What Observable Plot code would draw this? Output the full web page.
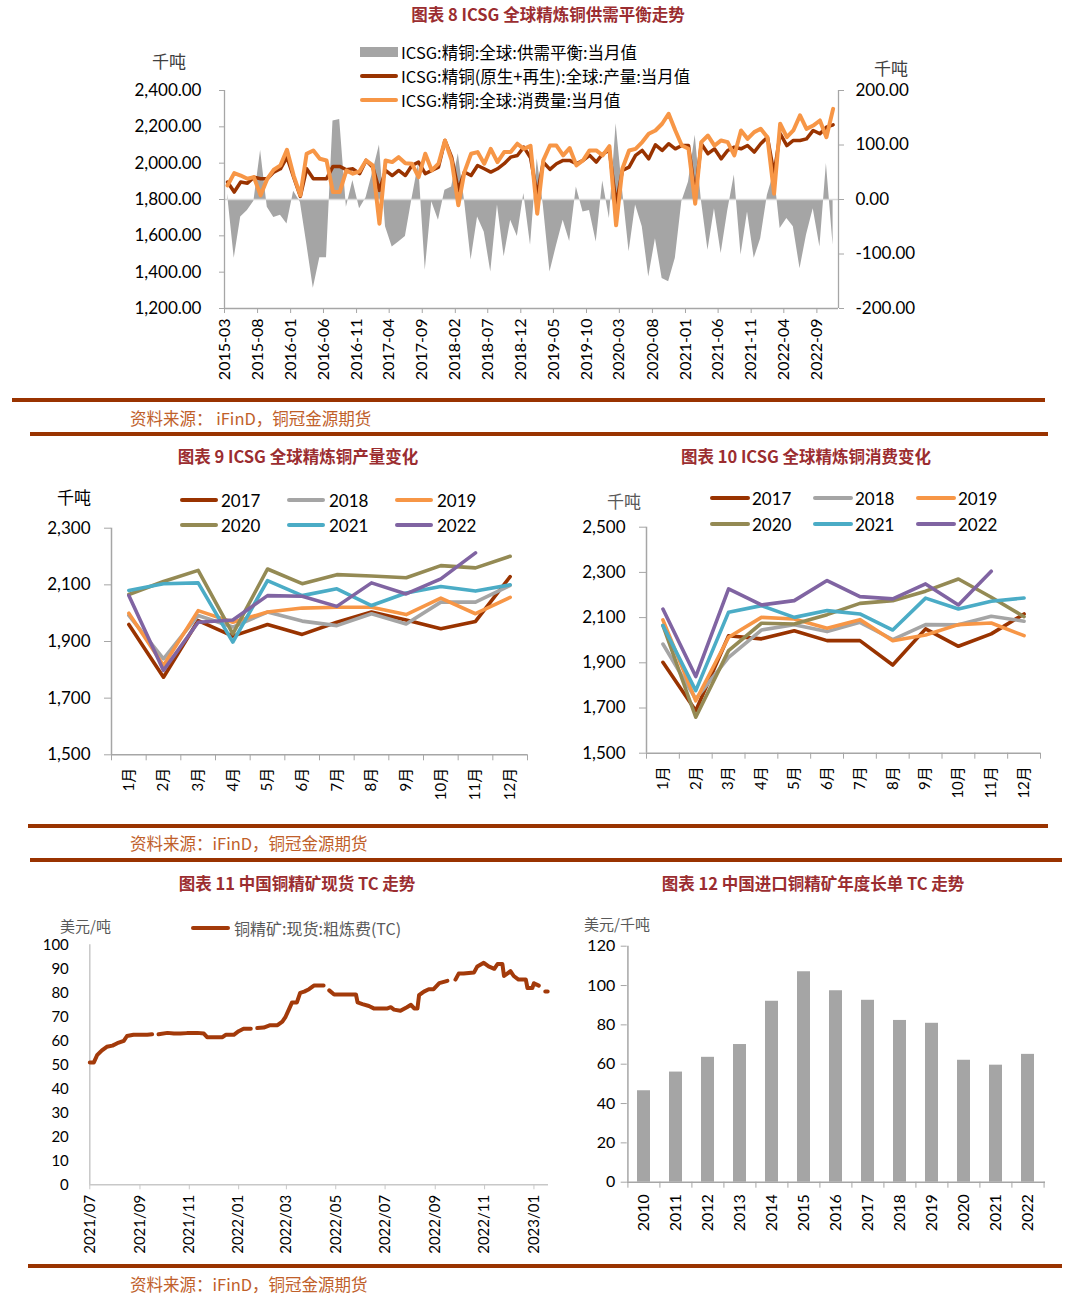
<!DOCTYPE html>
<html>
<head>
<meta charset="utf-8">
<script src="https://cdn.jsdelivr.net/npm/d3@7"></script>
<script src="https://cdn.jsdelivr.net/npm/@observablehq/plot@0.6"></script>
<style>
  body { margin: 0; background: #fff; }
  #root { position: relative; width: 1070px; height: 1308px; overflow: hidden; font-family: "Noto Sans CJK SC", "Noto Sans", sans-serif; }
  .title { position: absolute; font-weight: bold; color: #9B2D30; font-size: 16.5px; line-height: 1; white-space: nowrap; transform: translate(-50%, -50%); }
  .rule { position: absolute; height: 3.5px; background: #993300; }
  .src { position: absolute; color: #C0602A; font-size: 16.5px; line-height: 1; white-space: nowrap; transform: translateY(-50%); }
  .txt { position: absolute; white-space: nowrap; line-height: 1; transform: translateY(-50%); }
  .sw { position: absolute; border-radius: 3px; }
</style>
</head>
<body>
<div id="root"></div>
<script>
// ---------------- DATA ----------------
// Figure 8: ICSG refined copper, monthly from 2015-03
const firstMonth = "2015-03";
const production = [1896,1841,1896,1890,1923,1914,1914,1951,1969,2033,1923,1817,1969,1914,1914,1914,1982,1982,1964,1969,1942,2015,1978,1850,1960,1932,1960,1932,1987,2006,1942,1960,1978,2125,2033,1850,1951,1932,1987,1969,1951,1969,1997,2033,2042,2088,2030,1822,2006,1966,1997,2015,2015,1997,2015,2043,2006,2052,2070,1768,1960,1978,2043,2070,2024,2101,2070,2107,2079,2097,2097,1823,2107,2052,2079,2024,2070,2088,2079,2097,2061,2107,2143,1942,2162,2097,2125,2125,2134,2180,2162,2198,2211];
const consumption = [1877,1945,1932,1914,1923,1823,1914,1964,1988,2074,1932,1823,2052,2070,2024,2015,1841,1841,1960,1942,1955,2015,1988,1667,2015,2006,2033,2000,1997,1923,2052,1960,1997,2125,2015,1768,1951,2052,2061,1997,2079,2006,2061,2061,2107,2079,2095,1722,2015,2097,2097,2043,2083,1988,2015,2070,2070,2043,2094,1658,1969,2070,2079,2116,2162,2180,2217,2272,2180,2097,2079,1777,2116,2152,2097,2125,2116,2043,2180,2134,2171,2189,2143,1832,2217,2143,2180,2263,2189,2207,2235,2143,2299];
const balance = [10,-108,-32,-20,-3,90,-14,-33,-29,-45,15,-5,-80,-163,-107,-107,144,147,-14,35,-17,3,50,100,-50,-87,-78,-68,0,66,-130,-4,-38,17,23,84,0,-111,-32,-60,-133,-10,-105,-38,-68,11,-84,75,-10,-133,-85,-38,-77,23,-23,-20,-78,34,-35,139,20,-96,-10,-50,-142,-72,-145,-151,-108,-4,32,118,0,-93,-17,-99,-22,45,-102,-23,-108,-72,8,50,-53,-35,-50,-127,-65,-17,-87,66,-84];
const topTickLabels = ["2015-03","2015-08","2016-01","2016-06","2016-11","2017-04","2017-09","2018-02","2018-07","2018-12","2019-05","2019-10","2020-03","2020-08","2021-01","2021-06","2021-11","2022-04","2022-09"];
const leftTicks = [1200,1400,1600,1800,2000,2200,2400];
const rightTicks = [-200,-100,0,100,200];
const topLegend = ["ICSG:精铜:全球:供需平衡:当月值","ICSG:精铜(原生+再生):全球:产量:当月值","ICSG:精铜:全球:消费量:当月值"];

// Figures 9 & 10: by month
const monthLabels = ["1月","2月","3月","4月","5月","6月","7月","8月","9月","10月","11月","12月"];
const years = ["2017","2018","2019","2020","2021","2022"];
const yearColors = ["#993300","#A5A5A5","#F79646","#948A54","#4BACC6","#8064A2"];
const prod2017 = [1960,1774,1974,1919,1960,1925,1968,2004,1976,1945,1971,2129];
const prod2018 = [1992,1839,1992,1951,2004,1972,1956,1998,1962,2039,2039,2098];
const prod2019 = [2000,1815,2009,1968,2004,2018,2021,2021,1995,2053,1998,2056];
const prod2020 = [2066,2112,2151,1927,2156,2104,2136,2131,2125,2168,2160,2201];
const prod2021 = [2080,2104,2107,1898,2115,2062,2086,2027,2071,2094,2078,2100];
const prod2022 = [2062,1798,1968,1976,2062,2060,2024,2107,2068,2121,2213];
const cons2017 = [1902,1688,2020,2006,2042,1998,1998,1890,2050,1973,2028,2116];
const cons2018 = [1983,1740,1924,2045,2068,2038,2079,2003,2069,2068,2106,2084];
const cons2019 = [2090,1732,2013,2101,2094,2053,2091,1998,2023,2069,2076,2020];
const cons2020 = [2065,1659,1954,2075,2072,2113,2163,2175,2217,2271,2190,2104];
const cons2021 = [2065,1777,2124,2153,2101,2131,2116,2045,2186,2138,2172,2187];
const cons2022 = [2138,1839,2227,2156,2175,2264,2193,2183,2249,2156,2305];
const prodTicks = [1500,1700,1900,2100,2300];
const consTicks = [1500,1700,1900,2100,2300,2500];

// Figure 11: spot TC (null = gap in the series)
const tcDates = ["2021-07-01","2021-07-06","2021-07-10","2021-07-16","2021-07-22","2021-07-29","2021-08-04","2021-08-12","2021-08-16","2021-08-24","2021-09-02","2021-09-10","2021-09-16","2021-09-20","2021-09-24","2021-10-05","2021-10-13","2021-10-21","2021-10-29","2021-11-11","2021-11-19","2021-11-23","2021-12-01","2021-12-12","2021-12-16","2021-12-26","2022-01-01","2022-01-07","2022-01-16","2022-01-20","2022-01-24","2022-02-01","2022-02-09","2022-02-18","2022-02-24","2022-02-28","2022-03-04","2022-03-08","2022-03-14","2022-03-18","2022-03-23","2022-03-29","2022-04-04","2022-04-10","2022-04-16","2022-04-20","2022-04-23","2022-04-29","2022-05-07","2022-05-19","2022-05-26","2022-05-28","2022-06-03","2022-06-11","2022-06-17","2022-06-25","2022-07-04","2022-07-08","2022-07-12","2022-07-20","2022-07-28","2022-08-02","2022-08-06","2022-08-10","2022-08-12","2022-08-18","2022-08-24","2022-08-30","2022-09-06","2022-09-16","2022-09-21","2022-09-26","2022-09-30","2022-10-06","2022-10-19","2022-10-23","2022-10-31","2022-11-06","2022-11-13","2022-11-17","2022-11-23","2022-11-25","2022-11-29","2022-12-03","2022-12-07","2022-12-13","2022-12-22","2022-12-24","2022-12-30","2023-01-01","2023-01-07","2023-01-11","2023-01-15","2023-01-18"];
const tcValues = [51,51,54,56,57.5,58,59,60,62,62.5,62.5,62.5,62.7,null,62.7,63.3,63,63,63.2,63.3,63,61.5,61.5,61.5,62.5,62.5,64,65,65,null,65.3,65.5,66.5,66.5,68,70,73,76,76,80,80.5,81.5,83,83,83,null,81,79.3,79.3,79.3,79.3,76,75.3,74.5,73.5,73.5,73.5,74,73,72.5,74,75,73.5,73.5,79,80.5,81.5,81.5,84,85,null,85.5,88,88,88.5,91,92.5,91,90,92,92,87,88,89,87,85.5,85.5,82,82,84,83,null,80.5,80.5];
const tcTickLabels = ["2021/07","2021/09","2021/11","2022/01","2022/03","2022/05","2022/07","2022/09","2022/11","2023/01"];
const tcYTicks = [0,10,20,30,40,50,60,70,80,90,100];
const tcLegend = "铜精矿:现货:粗炼费(TC)";

// Figure 12: annual benchmark TC
const tcYears = ["2010","2011","2012","2013","2014","2015","2016","2017","2018","2019","2020","2021","2022"];
const tcBenchmark = [46.5,56,63.5,70,92,107,97.35,92.5,82.25,80.8,62,59.5,65];
const benchTicks = [0,20,40,60,80,100,120];

// ---------------- HELPERS ----------------
const root = document.getElementById("root");
const axisGray = "#A6A6A6";
const latin = 'Lato, "Noto Sans CJK SC", sans-serif';
function place(node, left, top) {
  node.style.position = "absolute";
  node.style.left = left + "px";
  node.style.top = top + "px";
  root.appendChild(node);
}
function div(cls, text, css) {
  const d = document.createElement("div");
  d.className = cls;
  d.textContent = text;
  Object.assign(d.style, css);
  root.appendChild(d);
  return d;
}
function swatchLine(x1, x2, y, color, thick) {
  div("sw", "", {left: x1 + "px", top: (y - thick / 2) + "px", width: (x2 - x1) + "px", height: thick + "px", background: color});
}
const baseStyle = {fontFamily: latin, fontSize: "15px", color: "#000", background: "transparent", overflow: "visible"};

// ---------------- FIGURE 8 ----------------
const parseYM = d3.utcParse("%Y-%m");
const start = parseYM(firstMonth);
const topRows = production.map((p, i) => ({
  date: new Date(Date.UTC(start.getUTCFullYear(), start.getUTCMonth() + i, 15)),
  prod: p, cons: consumption[i], bal: balance[i]
}));
const topDomain = [start, new Date(Date.UTC(2022, 11, 10))];
const toLeft = b => 1800 + 3 * b; // secondary axis: -200..200 ↔ 1200..2400
const topChart = Plot.plot({
  width: 1070, height: 400, marginLeft: 224, marginRight: 232, marginTop: 90, marginBottom: 92,
  x: {type: "utc", domain: topDomain},
  y: {domain: [1200, 2400]},
  style: baseStyle,
  marks: [
    Plot.areaY(topRows, {x: "date", y1: 1800, y2: d => toLeft(d.bal), fill: "#A5A5A5"}),
    Plot.ruleY([1800], {stroke: "#D9D9D9", strokeWidth: 1.5}),
    Plot.line(topRows, {x: "date", y: "prod", stroke: "#993300", strokeWidth: 3.5, strokeLinejoin: "round"}),
    Plot.line(topRows, {x: "date", y: "cons", stroke: "#F79646", strokeWidth: 4, strokeLinejoin: "round"}),
    Plot.ruleX([topDomain[0]], {stroke: axisGray, strokeWidth: 1.3}),
    Plot.ruleX([topDomain[1]], {stroke: axisGray, strokeWidth: 1.3}),
    Plot.ruleY([1200], {stroke: axisGray, strokeWidth: 1.3}),
    Plot.axisY({anchor: "left", ticks: leftTicks, tickFormat: d3.format(",.2f"), tickSize: 5, tickPadding: 18, stroke: axisGray, fill: "#000", fontSize: 17, label: null}),
    Plot.axisY({anchor: "right", ticks: rightTicks.map(toLeft), tickFormat: d => ((d - 1800) / 3).toFixed(2), tickSize: 5, tickPadding: 12, stroke: axisGray, fill: "#000", fontSize: 17, label: null}),
    Plot.axisX({ticks: topTickLabels.map(parseYM), tickFormat: d3.utcFormat("%Y-%m"), tickRotate: -90, tickSize: 5, tickPadding: 5, stroke: axisGray, fill: "#000", fontSize: 16, label: null})
  ]
});
place(topChart, 0, 0);

// ---------------- FIGURES 9 & 10 ----------------
const monthNums = monthLabels.map((_, i) => i + 1);
const boundaries = [0.5, ...monthNums.map(m => m + 0.5)];
function monthChart(series, yTicks, yDomain, dims) {
  const lines = series.map((vals, k) => Plot.line(vals.map((v, i) => ({m: i + 1, v})), {x: "m", y: "v", stroke: yearColors[k], strokeWidth: 3.6, strokeLinejoin: "round", strokeLinecap: "round"}));
  return Plot.plot({
    width: dims.width, height: dims.height, marginLeft: dims.ml, marginRight: dims.mr, marginTop: dims.mt, marginBottom: dims.mb,
    x: {domain: [0.5, 12.5]},
    y: {domain: yDomain},
    style: baseStyle,
    marks: [
      Plot.ruleX([0.5], {stroke: axisGray, strokeWidth: 1.5}),
      Plot.ruleY([yDomain[0]], {stroke: axisGray, strokeWidth: 1.5}),
      Plot.axisY({ticks: yTicks, tickFormat: d3.format(","), tickSize: 7, tickPadding: dims.pad, stroke: axisGray, fill: "#000", fontSize: 17, label: null}),
      Plot.axisX({ticks: boundaries, tickFormat: () => "", tickSize: 6, stroke: axisGray, label: null}),
      Plot.axisX({ticks: monthNums, tickFormat: i => monthLabels[i - 1], tickSize: 0, tickPadding: 13, tickRotate: -90, fill: "#000", fontSize: 15, label: null}),
      ...lines
    ]
  });
}
place(monthChart([prod2017, prod2018, prod2019, prod2020, prod2021, prod2022], prodTicks, [1500, 2300],
  {width: 560, height: 350, ml: 111, mr: 33, mt: 57.7, mb: 65.7, pad: 14}), 0, 470);
place(monthChart([cons2017, cons2018, cons2019, cons2020, cons2021, cons2022], consTicks, [1500, 2500],
  {width: 510, height: 350, ml: 86, mr: 30, mt: 56.7, mb: 67.3, pad: 14}), 560, 470);

// ---------------- FIGURE 11 ----------------
const parseD = d3.utcParse("%Y-%m-%d");
const tcRows = tcDates.map((d, i) => ({date: parseD(d), v: tcValues[i]}));
const tcDomain = [parseD("2021-07-01"), parseD("2023-01-19")];
const tcChart = Plot.plot({
  width: 560, height: 390, marginLeft: 89.3, marginRight: 12, marginTop: 64.3, marginBottom: 85.7,
  x: {type: "utc", domain: tcDomain},
  y: {domain: [0, 100]},
  style: baseStyle,
  marks: [
    Plot.ruleX([tcDomain[0]], {stroke: "#C8C8C8", strokeWidth: 1.5}),
    Plot.ruleY([0], {stroke: "#C8C8C8", strokeWidth: 1.5}),
    Plot.axisY({ticks: tcYTicks, tickSize: 0, tickPadding: 21, fill: "#000", fontSize: 15, label: null}),
    Plot.axisX({ticks: tcTickLabels.map(d3.utcParse("%Y/%m")), tickFormat: d3.utcFormat("%Y/%m"), tickRotate: -90, tickSize: 5, tickPadding: 5, stroke: "#C8C8C8", fill: "#000", fontSize: 15, label: null}),
    Plot.line(tcRows, {x: "date", y: "v", stroke: "#A33A0A", strokeWidth: 4, strokeLinecap: "round", strokeLinejoin: "round"})
  ]
});
place(tcChart, 0, 880);

// ---------------- FIGURE 12 ----------------
const benchRows = tcYears.map((y, i) => ({year: y, v: tcBenchmark[i]}));
const step12 = (1045 - 626.7) / tcYears.length;
const benchChart = Plot.plot({
  width: 510, height: 390, marginLeft: 66.7, marginRight: 25, marginTop: 65.7, marginBottom: 88.3,
  x: {type: "band", domain: tcYears, paddingInner: 0.6, paddingOuter: 0.3},
  y: {domain: [0, 120]},
  style: baseStyle,
  marks: [
    Plot.barY(benchRows, {x: "year", y: "v", fill: "#A5A5A5"}),
    Plot.ruleX([tcYears[0]], {stroke: axisGray, strokeWidth: 1.5, dx: -step12 / 2}),
    Plot.ruleY([0], {stroke: axisGray, strokeWidth: 1.5}),
    Plot.axisY({ticks: benchTicks, tickSize: 6, tickPadding: 6, stroke: axisGray, fill: "#000", fontSize: 16, label: null}),
    Plot.axisX({ticks: tcYears, tickFormat: () => "", tickSize: 6, stroke: axisGray, dx: -step12 / 2, label: null}),
    Plot.axisX({ticks: [tcYears[tcYears.length - 1]], tickFormat: () => "", tickSize: 6, stroke: axisGray, dx: step12 / 2, label: null}),
    Plot.axisX({ticks: tcYears, tickSize: 0, tickPadding: 12, tickRotate: -90, fill: "#000", fontSize: 16, label: null})
  ]
});
place(benchChart, 560, 880);

// ---------------- TEXT, LEGENDS, RULES ----------------
div("title", "图表 8 ICSG 全球精炼铜供需平衡走势", {left: "548px", top: "14px"});
div("txt", "千吨", {left: "152px", top: "60px", fontSize: "17px", color: "#404040"});
div("txt", "千吨", {left: "874px", top: "67px", fontSize: "17px", color: "#404040"});
const legendRows = [52, 76, 100];
div("sw", "", {left: "360px", top: (legendRows[0] - 5) + "px", width: "38px", height: "10px", background: "#A5A5A5", borderRadius: "0"});
swatchLine(360, 398, legendRows[1], "#993300", 4);
swatchLine(360, 398, legendRows[2], "#F79646", 4);
legendRows.forEach((y, i) => div("txt", topLegend[i], {left: "401px", top: y + "px", fontSize: "16.5px", color: "#000"}));

div("rule", "", {left: "12px", top: "398px", width: "1033px"});
div("src", "资料来源：  iFinD，铜冠金源期货", {left: "130px", top: "418px"});
div("rule", "", {left: "30px", top: "432px", width: "1018px"});

div("title", "图表 9 ICSG 全球精炼铜产量变化", {left: "298px", top: "456px"});
div("title", "图表 10 ICSG 全球精炼铜消费变化", {left: "806px", top: "456px"});
div("txt", "千吨", {left: "57px", top: "496px", fontSize: "17px", color: "#000"});
div("txt", "千吨", {left: "607px", top: "500px", fontSize: "17px", color: "#595959"});

const lg9 = [[180, 221], [287, 329], [395, 437]];
const lg10 = [[710, 752], [813, 855], [916, 958]];
years.forEach((yr, k) => {
  const row = Math.floor(k / 3), col = k % 3;
  const y9 = row ? 525 : 500, y10 = row ? 524 : 498;
  swatchLine(lg9[col][0], lg9[col][0] + 38, y9, yearColors[k], 4);
  div("txt", yr, {left: lg9[col][1] + "px", top: y9 + "px", fontSize: "17px", fontFamily: latin, color: "#000"});
  swatchLine(lg10[col][0], lg10[col][0] + 40, y10, yearColors[k], 4);
  div("txt", yr, {left: lg10[col][1] + "px", top: y10 + "px", fontSize: "17px", fontFamily: latin, color: "#000"});
});

div("rule", "", {left: "28px", top: "824px", width: "1020px"});
div("src", "资料来源：iFinD，铜冠金源期货", {left: "130px", top: "843px"});
div("rule", "", {left: "30px", top: "858px", width: "1032px"});

div("title", "图表 11  中国铜精矿现货 TC 走势", {left: "297px", top: "883px"});
div("title", "图表 12 中国进口铜精矿年度长单 TC 走势", {left: "813px", top: "883px"});
div("txt", "美元/吨", {left: "60px", top: "925px", fontSize: "15px", color: "#595959"});
swatchLine(191, 230, 928, "#A33A0A", 4.5);
div("txt", tcLegend, {left: "234px", top: "928px", fontSize: "16px", color: "#595959"});
div("txt", "美元/千吨", {left: "584px", top: "923px", fontSize: "15px", color: "#595959"});

div("rule", "", {left: "28px", top: "1264px", width: "1034px"});
div("src", "资料来源：iFinD，铜冠金源期货", {left: "130px", top: "1284px"});
</script>
</body>
</html>
